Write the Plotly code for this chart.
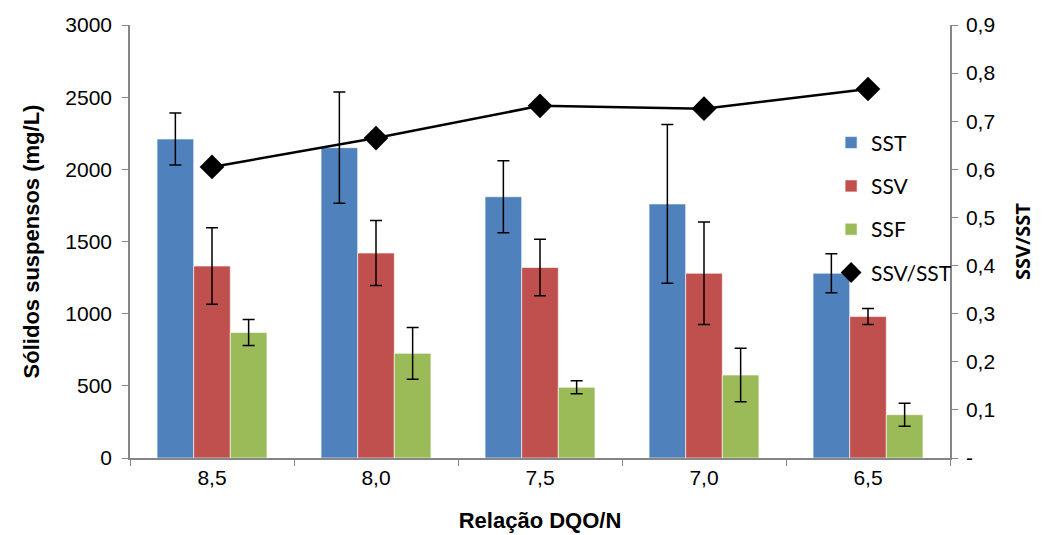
import plotly.graph_objects as go

categories = ["8,5", "8,0", "7,5", "7,0", "6,5"]
sst = [2210, 2150, 1810, 1760, 1280]
sst_err = [180, 385, 250, 550, 135]
ssv = [1330, 1420, 1320, 1280, 980]
ssv_err = [265, 225, 195, 355, 55]
ssf = [870, 725, 490, 575, 300]
ssf_err = [90, 180, 45, 185, 80]
ratio = [0.605, 0.665, 0.732, 0.726, 0.767]

right_ticks = [0, 0.1, 0.2, 0.3, 0.4, 0.5, 0.6, 0.7, 0.8, 0.9]
right_labels = ["-", "0,1", "0,2", "0,3", "0,4", "0,5", "0,6", "0,7", "0,8", "0,9"]

colors = {"SST": "#4F81BD", "SSV": "#C0504D", "SSF": "#9BBB59"}
err_style = dict(type="data", visible=True, color="black", thickness=1.5, width=6)

fig = go.Figure()
for name, vals, errs in [("SST", sst, sst_err), ("SSV", ssv, ssv_err), ("SSF", ssf, ssf_err)]:
    fig.add_trace(go.Bar(
        x=categories, y=vals, name=name, legendgroup=name,
        marker=dict(color=colors[name], line=dict(color="rgba(255,255,255,0.6)", width=1)),
        error_y=dict(array=errs, **err_style),
        yaxis="y",
    ))

fig.add_trace(go.Scatter(
    x=categories, y=ratio, name="SSV/SST", mode="lines+markers",
    line=dict(color="black", width=2.5),
    marker=dict(symbol="diamond", size=19, color="black"),
    yaxis="y2", showlegend=False,
))
fig.add_trace(go.Scatter(
    x=[None], y=[None], name="SSV/SST", legendgroup="SSV/SST", mode="markers",
    marker=dict(symbol="diamond", size=19, color="black"),
    yaxis="y2", showlegend=True,
))

FS = 21
axis_font = dict(family="Liberation Sans, Arial, sans-serif", size=FS, color="black")
title_font = dict(family="Liberation Sans, Arial, sans-serif", size=22, color="black")
fig.update_layout(
    width=1055, height=535,
    margin=dict(l=130, r=105, t=25, b=77),
    paper_bgcolor="white", plot_bgcolor="white",
    barmode="group", bargap=0.33, bargroupgap=0,
    font=axis_font,
    xaxis=dict(
        type="category", tickson="boundaries", ticks="outside", ticklen=6,
        tickcolor="#868686", showline=True, linecolor="#868686", linewidth=1.5,
        showgrid=False, tickfont=axis_font, automargin=False,
        title=dict(text="<b>Relação DQO/N</b>", font=title_font, standoff=25),
    ),
    yaxis=dict(
        range=[0, 3000], dtick=500, ticks="outside", ticklen=6, tickcolor="#868686",
        showline=True, linecolor="#868686", linewidth=1.5, showgrid=False, zeroline=False,
        tickfont=axis_font, ticklabelstandoff=6, automargin=False,
        title=dict(text="<b>Sólidos suspensos (mg/L)</b>", font=title_font, standoff=20),
    ),
    yaxis2=dict(
        overlaying="y", side="right", range=[0, 0.9], tickvals=right_ticks, ticktext=right_labels,
        ticks="outside", ticklen=6, tickcolor="#868686", showline=True, linecolor="#868686",
        linewidth=1.5, showgrid=False, zeroline=False, tickfont=axis_font, ticklabelstandoff=4,
        automargin=False,
        title=dict(text="<b>SSV/SST</b>", font=dict(family="Open Sans, sans-serif", size=20, color="black"), standoff=22),
    ),
    legend=dict(
        x=0.855, y=0.775, xanchor="left", yanchor="top", bgcolor="rgba(0,0,0,0)",
        font=dict(family="Lato, sans-serif", size=21, color="black"),
        tracegroupgap=13,
    ),
)

fig.write_html("out.html")
